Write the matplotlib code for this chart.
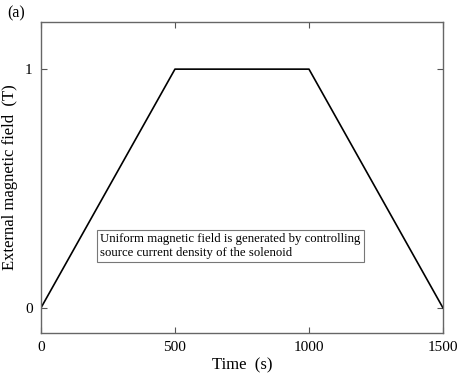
import numpy as np
import matplotlib
matplotlib.use('Agg')
import matplotlib.pyplot as plt

plt.rcParams['font.family'] = ['Liberation Serif', 'DejaVu Serif']

# field ramp: up, flat, down
time_s = [0, 500, 1000, 1500]
field_T = [0, 1, 1, 0]
xticks = [0, 500, 1000, 1500]
yticks = [0, 1]

fig = plt.figure(figsize=(4.6, 3.81), dpi=100)
ax = fig.add_axes([0.089, 0.126, 0.874, 0.816])

ax.plot(time_s, field_T, color='black', lw=1.2)
ax.set_xlim(0, 1500)
ax.set_ylim(-0.105, 1.197)
ax.set_xticks(xticks)
ax.set_yticks(yticks)
ax.tick_params(direction='in', top=True, right=True, length=4, width=0.8,
               colors='#555555', labelcolor='black', labelsize=11, pad=6)
for s in ax.spines.values():
    s.set_color('#666666')
    s.set_linewidth(1.0)

ax.set_xlabel('Time  (s)', fontsize=12, labelpad=2)
ax.set_ylabel('External magnetic field  (T)', fontsize=12, labelpad=5)

ax.text(0.148, 0.28,
        'Uniform magnetic field is generated by controlling\nsource current density of the solenoid',
        transform=ax.transAxes, fontsize=9.2, va='center', ha='left', linespacing=1.2,
        bbox=dict(boxstyle='square,pad=0.25', fc='white', ec='#777777', lw=0.8))

fig.text(0.015, 0.965, '(a)', fontsize=11.5, va='center', ha='left')

fig.savefig('out.png', dpi=100)
